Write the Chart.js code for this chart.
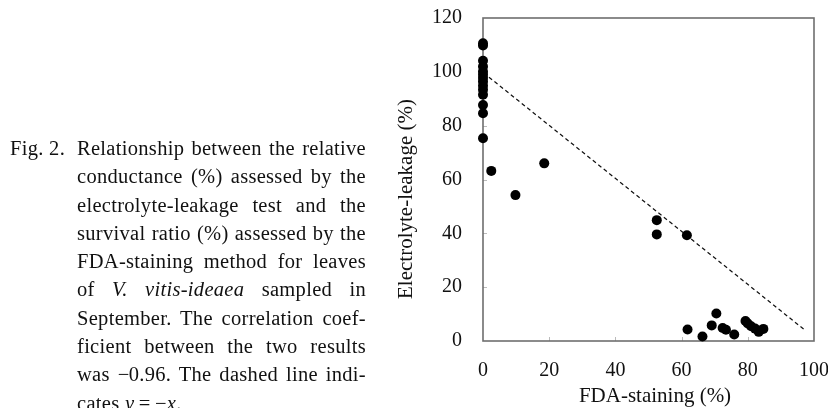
<!DOCTYPE html>
<html>
<head>
<meta charset="utf-8">
<script src="https://cdn.jsdelivr.net/npm/chart.js@4"></script>
<style>
  html, body { margin: 0; padding: 0; background: #fff; }
  #wrap { position: relative; width: 828px; height: 408px; overflow: hidden; }
  #chartBox { position: absolute; left: 0; top: 0; width: 828px; height: 408px; }
  .cap { position: absolute; font-family: "Liberation Serif", "Times New Roman", serif; font-size: 20.5px; line-height: 28.3px; color: #111; letter-spacing: 0.3px; }
  #figno { left: 10px; top: 134px; }
  #captext { left: 77px; top: 134px; width: 289px; }
  #captext div { text-align: justify; text-align-last: justify; }
  #captext div.last { text-align: left; text-align-last: left; }
</style>
</head>
<body>
<div id="wrap">
  <div id="chartBox"><canvas id="c"></canvas></div>
  <div class="cap" id="figno">Fig. 2.</div>
  <div class="cap" id="captext">
    <div>Relationship between the relative</div>
    <div>conductance (%) assessed by the</div>
    <div>electrolyte-leakage test and the</div>
    <div>survival ratio (%) assessed by the</div>
    <div>FDA-staining method for leaves</div>
    <div>of <i>V. vitis-ideaea</i> sampled in</div>
    <div>September. The correlation coef-</div>
    <div>ficient between the two results</div>
    <div>was <span style="letter-spacing:-0.5px">−</span>0.96. The dashed line indi-</div>
    <div class="last">cates <i>y</i>&thinsp;=&thinsp;−<i>x</i>.</div>
  </div>
</div>
<script>
// ---- Data ----
const fdaStaining = [
  0, 0, 0, 0, 0, 0, 0, 0, 0, 0, 0, 0, 0, 0,
  2.5, 9.8, 18.5, 52.5, 52.5, 61.6,
  61.8, 66.3, 69.1, 70.5, 72.4, 73.4, 75.9, 79.3, 80.0, 81.0, 82.2, 83.3, 84.7
];
const electrolyteLeakage = [
  110.6, 109.8, 104.1, 102.0, 100.1, 98.9, 97.7, 96.4, 94.8, 93.3, 91.5, 87.7, 84.6, 75.3,
  63.2, 54.2, 66.0, 44.9, 39.6, 39.3,
  4.3, 1.7, 5.8, 10.2, 4.8, 4.2, 2.4, 7.4, 6.5, 5.5, 4.6, 3.4, 4.5
];
const refLineX = [1.8, 97.0];
const refLineY = [98.0, 4.3];
const xTicks = [0, 20, 40, 60, 80, 100];
const yTicks = [0, 20, 40, 60, 80, 100, 120];
const xTitle = "FDA-staining (%)";
const yTitle = "Electrolyte-leakage (%)";

const scatterData = fdaStaining.map((x, i) => ({ x: x, y: electrolyteLeakage[i] }));
const lineData = refLineX.map((x, i) => ({ x: x, y: refLineY[i] }));

const FONT = '"Liberation Serif", "Times New Roman", serif';

const framePlugin = {
  id: 'frame',
  beforeDatasetsDraw(chart) {
    const ctx = chart.ctx;
    const a = chart.chartArea;
    const xs = chart.scales.x, ys = chart.scales.y;
    ctx.save();
    ctx.strokeStyle = '#bbb';
    ctx.lineWidth = 1;
    xTicks.slice(1, -1).forEach(v => {
      const px = Math.round(xs.getPixelForValue(v)) + 0.5;
      ctx.beginPath(); ctx.moveTo(px, a.bottom); ctx.lineTo(px, a.bottom - 4); ctx.stroke();
    });
    yTicks.slice(1, -1).forEach(v => {
      const py = Math.round(ys.getPixelForValue(v)) + 0.5;
      ctx.beginPath(); ctx.moveTo(a.left, py); ctx.lineTo(a.left + 4, py); ctx.stroke();
    });
    ctx.strokeStyle = '#6e6e6e';
    ctx.lineWidth = 1.6;
    ctx.strokeRect(a.left, a.top, a.right - a.left, a.bottom - a.top);
    ctx.restore();
  },
  afterDraw(chart) {
    const ctx = chart.ctx;
    ctx.save();
    ctx.fillStyle = '#111';
    ctx.font = '21px ' + FONT;
    ctx.textAlign = 'center';
    ctx.textBaseline = 'middle';
    ctx.fillText(xTitle, 655, 396);
    ctx.translate(406, 199);
    ctx.rotate(-Math.PI / 2);
    ctx.fillText(yTitle, 0, 0);
    ctx.restore();
  }
};

new Chart(document.getElementById('c'), {
  type: 'scatter',
  data: {
    datasets: [
      {
        type: 'line',
        data: lineData,
        borderColor: '#111',
        borderWidth: 1.2,
        borderDash: [4, 3],
        pointRadius: 0,
        fill: false,
        clip: false,
        order: 2
      },
      {
        data: scatterData,
        backgroundColor: '#000',
        borderColor: '#000',
        borderWidth: 0,
        pointRadius: 5,
        clip: false,
        order: 1
      }
    ]
  },
  options: {
    responsive: true,
    maintainAspectRatio: false,
    animation: false,
    events: [],
    layout: { padding: { left: 396, top: 18, right: 14, bottom: 0 } },
    plugins: { legend: { display: false }, tooltip: { enabled: false } },
    scales: {
      x: {
        type: 'linear',
        min: 0, max: 100,
        afterFit(s) { s.height = 67; s.paddingLeft = 0; s.paddingRight = 0; },
        afterBuildTicks(s) { s.ticks = xTicks.map(v => ({ value: v })); },
        grid: { display: false, drawTicks: false },
        border: { display: false },
        ticks: { padding: 18, color: '#111', font: { family: FONT, size: 20 }, maxRotation: 0 }
      },
      y: {
        type: 'linear',
        min: 0, max: 120,
        afterFit(s) { s.width = 87; s.paddingTop = 0; s.paddingBottom = 0; },
        afterBuildTicks(s) { s.ticks = yTicks.map(v => ({ value: v })); },
        grid: { display: false, drawTicks: false },
        border: { display: false },
        ticks: { padding: 21, color: '#111', font: { family: FONT, size: 20 } }
      }
    }
  },
  plugins: [framePlugin]
});
</script>
</body>
</html>
